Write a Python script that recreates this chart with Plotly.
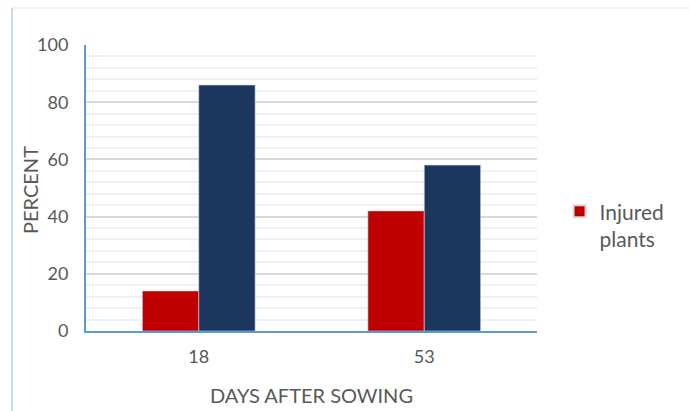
import plotly.graph_objects as go

# Sampling dates and plant counts (percent of plants)
days = ["18", "53"]
injured_pct = [14, 42]
healthy_pct = [86, 58]

injured_name = "Injured<br>plants"
healthy_name = "Healthy plants"

y_ticks = [0, 20, 40, 60, 80, 100]

FONT = "Lato, 'Open Sans', sans-serif"
GREY = "#595959"

# plot-area geometry in pixels, used to place the axis titles
L, R, T, B = 86, 152, 45, 80
W, H = 689, 411
PW, PH = W - L - R, H - T - B

fig = go.Figure()
fig.add_trace(go.Bar(
    x=days, y=injured_pct, name=injured_name,
    marker=dict(color="#c00000", line=dict(color="#d9d9d9", width=0.6)),
))
fig.add_trace(go.Bar(
    x=days, y=healthy_pct, name=healthy_name, showlegend=False,
    marker=dict(color="#1b375d", line=dict(color="#d9d9d9", width=0.6)),
))

fig.update_layout(
    width=W, height=H,
    margin=dict(l=L, r=R, t=T, b=B),
    paper_bgcolor="white", plot_bgcolor="white",
    barmode="group", bargap=0.5, bargroupgap=0,
    font=dict(family=FONT, color=GREY, size=18),
    legend=dict(
        x=1.05, xanchor="left", y=0.37, yanchor="middle",
        font=dict(size=21, color=GREY, family=FONT),
        itemsizing="constant", bgcolor="rgba(0,0,0,0)",
        itemwidth=30, valign="top",
    ),
    xaxis=dict(
        type="category",
        showline=True, linecolor="#5b9bd5", linewidth=2,
        showgrid=False, ticks="", ticklabelstandoff=8,
        tickfont=dict(size=18, color=GREY),
    ),
    yaxis=dict(
        range=[0, 100], tickvals=y_ticks,
        showline=True, linecolor="#5b9bd5", linewidth=2,
        showgrid=True, gridcolor="#d9d9d9", gridwidth=1.5,
        minor=dict(dtick=4, showgrid=True, gridcolor="#f0f0f0", gridwidth=1.5),
        zeroline=False, ticks="", ticklabelstandoff=12,
        tickfont=dict(size=18, color=GREY),
    ),
    annotations=[
        dict(text="DAYS AFTER SOWING", xref="paper", yref="paper",
             x=0.5, y=(H - B - 395) / PH, xanchor="center", yanchor="middle",
             showarrow=False, font=dict(size=20, color=GREY)),
        dict(text="PERCENT", xref="paper", yref="paper", textangle=-90,
             x=(30 - L) / PW, y=(H - B - 190) / PH,
             xanchor="center", yanchor="middle",
             showarrow=False, font=dict(size=20, color=GREY)),
    ],
    shapes=[
        dict(type="line", xref="paper", yref="paper",
             x0=(12 - L) / PW, x1=1.4, y0=(H - B - 8) / PH, y1=(H - B - 8) / PH,
             line=dict(color="#eef3fb", width=2)),
        dict(type="line", xref="paper", yref="paper",
             x0=(12 - L) / PW, x1=(12 - L) / PW, y0=(H - B - 8) / PH, y1=-0.3,
             line=dict(color="#c9ddf1", width=2)),
    ],
)

fig.write_html("out.html")
